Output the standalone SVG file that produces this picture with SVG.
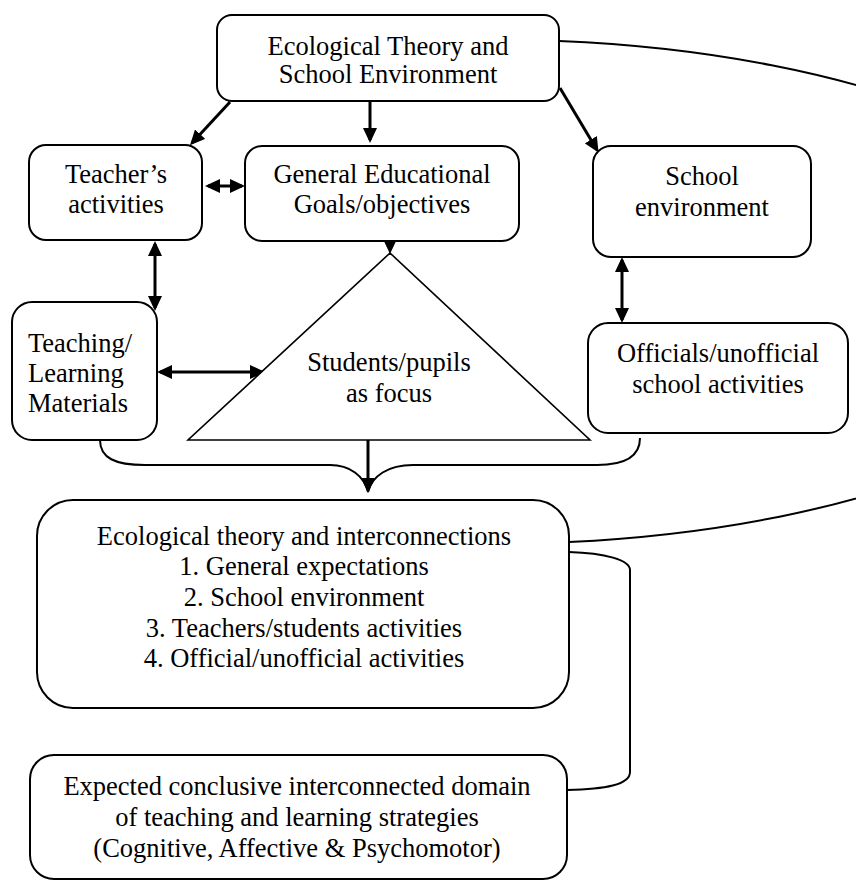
<svg xmlns="http://www.w3.org/2000/svg" width="856" height="882" viewBox="0 0 856 882">
<style>
text{font-family:"Liberation Serif","Times New Roman",serif;font-size:26.5px;fill:#000;text-anchor:middle}
.box{fill:#fff;stroke:#000;stroke-width:2}
.arr{fill:none;stroke:#000;stroke-width:3}
.thin{fill:none;stroke:#000;stroke-width:2}
</style>
<defs>
<marker id="ah" viewBox="0 0 15 14" refX="12" refY="7" markerWidth="15" markerHeight="14" markerUnits="userSpaceOnUse" orient="auto-start-reverse">
<path d="M0,0 L15,7 L0,14 z" fill="#000"/>
</marker>
</defs>
<rect width="856" height="882" fill="#fff"/>

<g id="connectors">
<path class="thin" d="M559,41 A630,252 0 0 1 569,542"/>
<path class="thin" d="M569,552 C605,553 630,560 630,570 L630,772 C630,785 605,789 567,790"/>
<path class="thin" d="M100,440 C100,458 115,465 145,465 L330,465 C350,465 364,476 368,492"/>
<path class="thin" d="M640,438 C640,456 625,465 597,465 L413,465 C388,465 372,476 368,492"/>
<line class="arr" x1="368" y1="440" x2="368" y2="490" marker-end="url(#ah)"/>
<line class="arr" x1="230" y1="102" x2="192" y2="143" marker-end="url(#ah)"/>
<line class="arr" x1="370" y1="101" x2="370" y2="140" marker-end="url(#ah)"/>
<line class="arr" x1="560" y1="88" x2="597" y2="150" marker-end="url(#ah)"/>
<line class="thin" x1="390" y1="241" x2="390" y2="251" marker-end="url(#ah)"/>
<line class="arr" x1="208" y1="186" x2="242" y2="186" marker-start="url(#ah)" marker-end="url(#ah)"/>
<line class="arr" x1="155" y1="244" x2="155" y2="308" marker-start="url(#ah)" marker-end="url(#ah)"/>
<line class="arr" x1="160" y1="372" x2="262" y2="372" marker-start="url(#ah)" marker-end="url(#ah)"/>
<line class="arr" x1="622" y1="260" x2="622" y2="320" marker-start="url(#ah)" marker-end="url(#ah)"/>
</g>

<g id="top">
<rect class="box" x="217" y="15" width="342" height="86" rx="15"/>
<text x="388" y="55">Ecological Theory and</text>
<text x="388" y="83">School Environment</text>
</g>

<g id="teacher">
<rect class="box" x="29" y="145" width="173" height="95" rx="17" stroke-width="2.5"/>
<text x="116" y="183">Teacher’s</text>
<text x="116" y="213">activities</text>
</g>

<g id="goals">
<rect class="box" x="245" y="146" width="274" height="95" rx="17"/>
<text x="382" y="183">General Educational</text>
<text x="382" y="213">Goals/objectives</text>
</g>

<g id="schoolenv">
<rect class="box" x="593" y="146" width="218" height="111" rx="18"/>
<text x="702" y="185">School</text>
<text x="702" y="216">environment</text>
</g>

<g id="materials">
<rect class="box" x="12" y="302" width="145" height="138" rx="20"/>
<text x="28" y="352" style="text-anchor:start">Teaching/</text>
<text x="28" y="382" style="text-anchor:start">Learning</text>
<text x="28" y="412" style="text-anchor:start">Materials</text>
</g>

<g id="students">
<polygon points="390,253 188,440 590,440" fill="#fff" stroke="#000" stroke-width="1.6"/>
<text x="389" y="371">Students/pupils</text>
<text x="389" y="402">as focus</text>
</g>

<g id="officials">
<rect class="box" x="588" y="323" width="260" height="110" rx="20"/>
<text x="718" y="362">Officials/unofficial</text>
<text x="718" y="393">school activities</text>
</g>

<g id="interconnections">
<rect class="box" x="37" y="500" width="532" height="208" rx="36"/>
<text x="304" y="545">Ecological theory and interconnections</text>
<text x="304" y="575">1. General expectations</text>
<text x="304" y="606">2. School environment</text>
<text x="304" y="637">3. Teachers/students activities</text>
<text x="304" y="667">4. Official/unofficial activities</text>
</g>

<g id="expected">
<rect class="box" x="30" y="755" width="537" height="124" rx="24"/>
<text x="297" y="795">Expected conclusive interconnected domain</text>
<text x="297" y="826">of teaching and learning strategies</text>
<text x="297" y="857">(Cognitive, Affective &amp; Psychomotor)</text>
</g>
</svg>
